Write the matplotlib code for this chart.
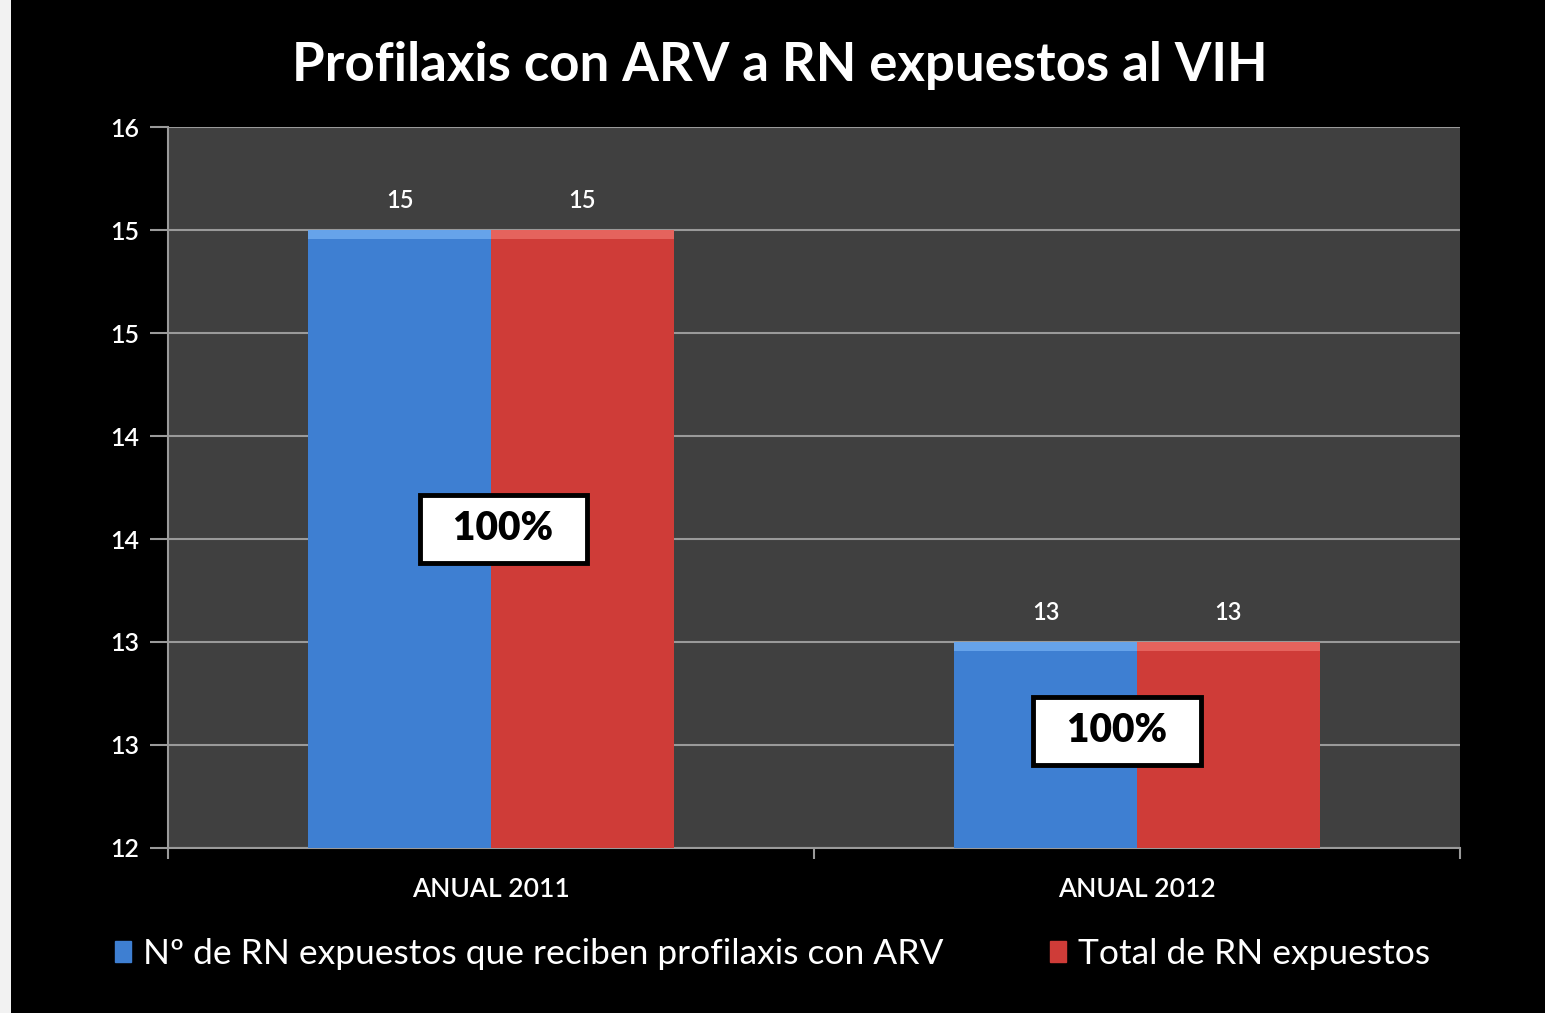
import matplotlib
matplotlib.use("Agg")
import matplotlib.pyplot as plt
import numpy as np
from matplotlib.patches import Rectangle

categories = ["ANUAL 2011", "ANUAL 2012"]
series_names = [
    "Nº de RN expuestos que reciben profilaxis con ARV",
    "Total de RN expuestos",
]
recibe_profilaxis = [15, 13]
total_expuestos = [15, 13]
porcentajes = ["100%", "100%"]
y_ticks = [12, 12.5, 13, 13.5, 14, 14.5, 15, 15.5]
y_tick_labels = ["12", "13", "13", "14", "14", "15", "15", "16"]

BLUE = "#3e7fd2"
RED = "#cf3c38"
FONT = ["Lato", "DejaVu Sans"]

plt.rcParams["font.family"] = FONT

fig = plt.figure(figsize=(15.45, 10.13), dpi=100, facecolor="black")
ax = fig.add_axes([0.1087, 0.1629, 0.8363, 0.7117])
ax.set_facecolor("#404040")

# thin white strip on the left edge of the slide
fig.patches.append(Rectangle((0, 0), 0.007, 1, transform=fig.transFigure,
                             facecolor="#f2f2f2", edgecolor="none"))

x = np.arange(len(categories))
width = 0.283

for offset, values, color, light in [
    (-width / 2, recibe_profilaxis, BLUE, "#66a3ea"),
    (width / 2, total_expuestos, RED, "#e5635d"),
]:
    ax.bar(x + offset, np.array(values) - 12, width, bottom=12,
           color=color, edgecolor="none", zorder=3)
    # bevel highlight on the top of each bar
    ax.bar(x + offset, 0.045, width, bottom=np.array(values) - 0.045,
           color=light, edgecolor="none", zorder=4)
    for xi, v in zip(x + offset, values):
        ax.text(xi, v + 0.145, str(v), color="white", fontsize=17,
                fontweight="semibold", ha="center", va="center", zorder=5)

# percentage boxes
box_pos = [(0.019, 13.55), (0.969, 12.57)]
for (bx, by), label in zip(box_pos, porcentajes):
    ax.text(bx, by, "  " + label + "  ", color="black", fontsize=28,
            fontweight="heavy", ha="center", va="center", zorder=6,
            bbox=dict(boxstyle="square,pad=0.4", facecolor="white",
                      edgecolor="black", linewidth=3.5))

ax.set_xlim(-0.5, 1.5)
ax.set_ylim(12, 15.5)
ax.set_yticks(y_ticks)
ax.set_yticklabels(y_tick_labels, fontweight="semibold")
ax.yaxis.grid(True, color="#9a9a9a", linewidth=1.5, zorder=1)
ax.set_axisbelow(True)

ax.set_xticks(x)
ax.set_xticklabels(categories, fontweight="semibold")
ax.set_xticks([-0.5, 0.5, 1.5], minor=True)
ax.tick_params(axis="x", which="major", length=0, pad=21, labelsize=19,
               labelcolor="white")
ax.tick_params(axis="x", which="minor", length=8, width=1.5, color="#9a9a9a")
ax.tick_params(axis="y", length=13, width=1.5, color="#9a9a9a", pad=8,
               labelsize=18, labelcolor="white")

for side in ["top", "right"]:
    ax.spines[side].set_visible(False)
for side in ["left", "bottom"]:
    ax.spines[side].set_color("#9a9a9a")
    ax.spines[side].set_linewidth(1.5)

fig.text(0.505, 0.935, "Profilaxis con ARV a RN expuestos al VIH",
         color="white", fontsize=38, fontweight="bold",
         ha="center", va="center")

handles = [Rectangle((0, 0), 1, 1, color=BLUE), Rectangle((0, 0), 1, 1, color=RED)]
fig.legend(handles, series_names, loc="center", bbox_to_anchor=(0.5, 0.058),
           ncol=2, frameon=False, fontsize=25.5, labelcolor="white",
           handlelength=0.45, handleheight=0.55, handletextpad=0.35,
           columnspacing=3.0)

fig.savefig("out.png", dpi=100, facecolor="black")
